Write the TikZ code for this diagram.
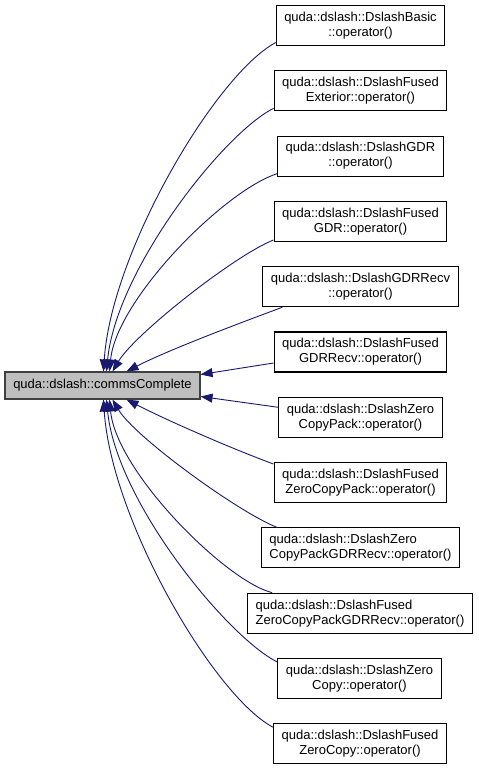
\documentclass[tikz,border=0pt]{standalone}
\usepackage{fontspec}
\setmainfont{Liberation Sans}
\usetikzlibrary{arrows.meta}
\definecolor{edgeblue}{HTML}{191970}
\definecolor{mainfill}{HTML}{BFBFBF}
\definecolor{mainborder}{HTML}{404040}
\begin{document}
\begin{tikzpicture}[x=1pt,y=-1pt,
  every node/.style={font=\fontsize{13}{15}\selectfont},
  mainbox/.style={draw=mainborder,fill=mainfill,line width=1.1pt,minimum width=195pt,minimum height=27pt,inner sep=0pt},
  callbox/.style={draw=black,fill=white,line width=1.1pt,minimum height=40pt,inner xsep=8pt,inner ysep=0pt,align=center},
  leftbox/.style={callbox,align=left},
  edge/.style={draw=edgeblue,line width=0.9pt,-{Triangle[length=12pt,width=9pt,fill=edgeblue]}}
]
\useasboundingbox (0,0) rectangle (479,771);
\node[mainbox] (main) at (102.5,385.5) {quda::dslash::commsComplete};
\node[callbox] (r1) at (360.5,25.5) {quda::dslash::DslashBasic\\::operator()};
\node[callbox] (r2) at (360.5,90.8) {quda::dslash::DslashFused\\Exterior::operator()};
\node[callbox] (r3) at (360.5,156.1) {quda::dslash::DslashGDR\\::operator()};
\node[callbox] (r4) at (360.5,221.4) {quda::dslash::DslashFused\\GDR::operator()};
\node[callbox] (r5) at (360.5,286.7) {quda::dslash::DslashGDRRecv\\::operator()};
\node[callbox] (r6) at (360.5,352) {quda::dslash::DslashFused\\GDRRecv::operator()};
\node[callbox] (r7) at (360.5,417.3) {quda::dslash::DslashZero\\CopyPack::operator()};
\node[callbox] (r8) at (360.5,482.6) {quda::dslash::DslashFused\\ZeroCopyPack::operator()};
\node[leftbox] (r9) at (360.5,547.9) {quda::dslash::DslashZero\\CopyPackGDRRecv::operator()};
\node[leftbox] (r10) at (360,613.2) {quda::dslash::DslashFused\\ZeroCopyPackGDRRecv::operator()};
\node[callbox] (r11) at (359.5,678.5) {quda::dslash::DslashZero\\Copy::operator()};
\node[callbox] (r12) at (360,743.8) {quda::dslash::DslashFused\\ZeroCopy::operator()};

\draw[edge] ([yshift=3.5pt]r1.south west) .. controls +(-60,32) and +(8,-120) .. ([xshift=99pt]main.north west);
\draw[edge] ([yshift=3pt]r2.south west) .. controls +(-50,25) and +(10,-102) .. ([xshift=102pt]main.north west);
\draw[edge] ([yshift=3pt]r3.south west) .. controls +(-53,17) and +(7,-72) .. ([xshift=105pt]main.north west);
\draw[edge] ([yshift=2pt]r4.south west) .. controls +(-40,16) and +(22,-37) .. ([xshift=108pt]main.north west);
\draw[edge] ([xshift=20pt]r5.south west) .. controls +(-43,16) and +(43,-22) .. ([xshift=122pt]main.north west);
\draw[edge] ([yshift=-11pt]r6.west) -- ([yshift=11pt]main.east);
\draw[edge] ([yshift=10pt]r7.west) -- ([yshift=-11pt]main.east);
\draw[edge] ([yshift=-2pt]r8.north west) .. controls +(-43,-16) and +(43,22) .. ([xshift=122pt]main.south west);
\draw[edge] ([xshift=16pt]r9.north west) .. controls +(-40,-16) and +(22,37) .. ([xshift=108pt]main.south west);
\draw[edge] ([xshift=25pt]r10.north west) .. controls +(-47,-12) and +(7,72) .. ([xshift=105pt]main.south west);
\draw[edge] ([yshift=-4pt]r11.north west) .. controls +(-50,-25) and +(10,102) .. ([xshift=102pt]main.south west);
\draw[edge] ([yshift=-4pt]r12.north west) .. controls +(-60,-32) and +(8,120) .. ([xshift=99pt]main.south west);
\end{tikzpicture}
\end{document}
